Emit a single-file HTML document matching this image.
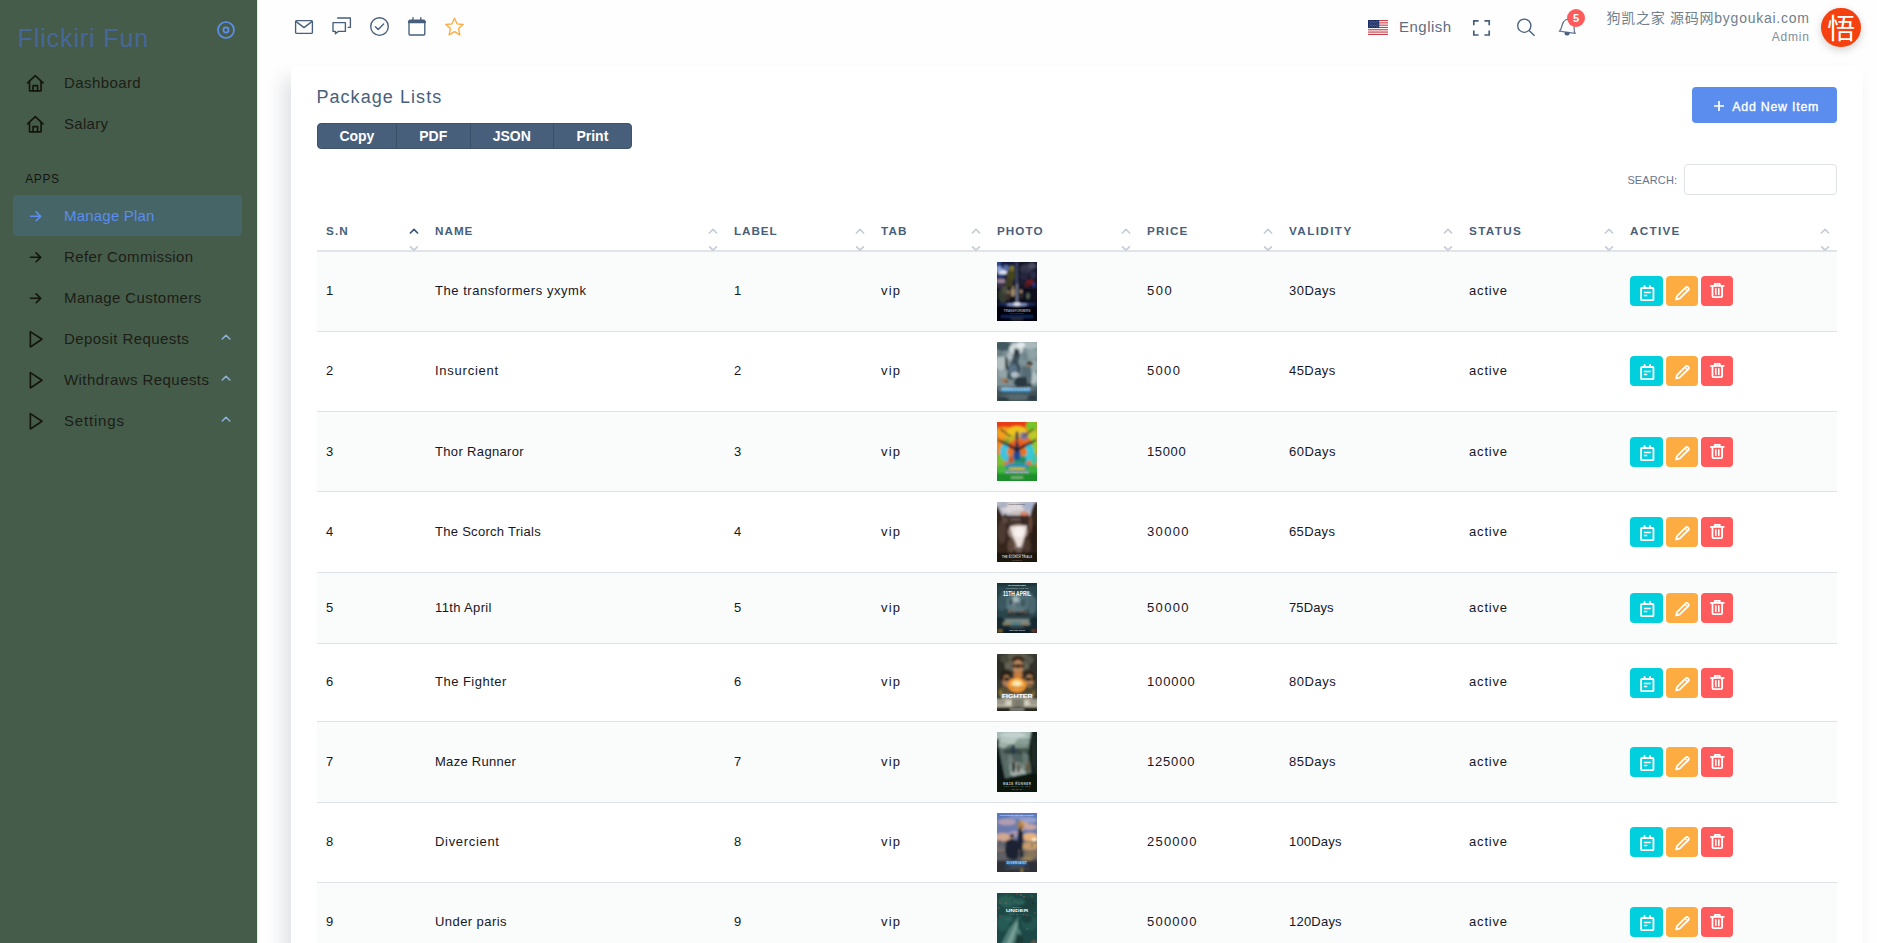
<!DOCTYPE html>
<html lang="en">
<head>
<meta charset="utf-8">
<title>Package Lists</title>
<style>
*{box-sizing:border-box;margin:0;padding:0}
html,body{width:1877px;height:943px;overflow:hidden;background:#fefefe;font-family:"Liberation Sans","Noto Sans CJK SC",sans-serif;color:#727e8c}
#side{position:absolute;left:0;top:0;width:256.6px;height:943px;background:#455c4a;border-right:1px solid #415a44;box-shadow:1px 0 1px rgba(200,200,225,.35)}
#brand{position:absolute;left:17.5px;top:22.5px;font-size:25px;line-height:30px;color:#47679a;white-space:nowrap;letter-spacing:.9px}
#tog{position:absolute;left:215.6px;top:19.8px;width:20px;height:20px;fill:none;stroke:#5e8ff0;stroke-width:1.7}
.mi{position:absolute;left:13px;width:228px;height:41px;border-radius:4px;color:#1c1d16;font-size:15px;line-height:41px;white-space:nowrap}
.mi span{position:absolute;left:51px;top:0}
.mi svg.ic{position:absolute;left:12.2px;top:11px;width:20.6px;height:20.6px;fill:none;stroke:#14150d;stroke-width:1.6;stroke-linecap:round;stroke-linejoin:round}
.mi svg.ch{position:absolute;left:207.8px;top:14.8px;width:10px;height:8px;fill:none;stroke:#8fb2dc;stroke-width:1.5;stroke-linecap:round;stroke-linejoin:round}
.mi.act{background:#466567;color:#5a8dee;width:229px}
.mi.act svg.ic{stroke:#5a8dee}
#apps{position:absolute;left:25.2px;top:172px;font-size:12px;line-height:14px;letter-spacing:.62px;color:#14150f}
#top{position:absolute;left:0;top:0;width:1877px;height:56px}
.ti{position:absolute;fill:none;stroke:#475f7b;stroke-width:1.35;stroke-linecap:round;stroke-linejoin:round;overflow:visible}
#lang{position:absolute;left:1399px;top:17px;font-size:15px;line-height:20px;color:#5f6d7e;white-space:nowrap;letter-spacing:.5px}
#badge{position:absolute;left:1567px;top:9px;width:18px;height:18px;border-radius:9px;background:#ff5b5c;color:#fff;font-size:11px;font-weight:bold;line-height:18px;text-align:center}
#uname{position:absolute;right:67.3px;top:8px;font-size:14px;line-height:20px;color:#727e8c;white-space:nowrap;letter-spacing:.75px}
#urole{position:absolute;right:67.2px;top:29px;font-size:12px;line-height:16px;color:#828d99;white-space:nowrap;letter-spacing:.8px}
#ava{position:absolute;left:1821.4px;top:8.3px;width:39.6px;height:39.2px;border-radius:20px;background:#f4410f;color:#fff;font-size:28px;line-height:38.4px;text-align:center;box-shadow:0 3px 8px rgba(0,0,0,.18);font-family:"Noto Sans CJK SC",sans-serif}
#card{position:absolute;left:291px;top:66px;width:1572px;height:900px;background:#fff;border-radius:4px;box-shadow:-8px 12px 18px 0 rgba(25,42,70,.13)}
#title{position:absolute;left:316.4px;top:85px;font-size:18px;line-height:24px;color:#475f7b;letter-spacing:.6px;white-space:nowrap}
#btns{position:absolute;left:317px;top:123px;width:315px;height:26px;background:#475f7b;border-radius:4px;border:1px solid #3d526b;display:flex;font-weight:bold;font-size:14px;color:#fff;line-height:24px}
#btns div{text-align:center;border-right:1px solid #3a4e66}
#btns div:last-child{border-right:0}
#add{position:absolute;left:1692px;top:87px;width:145px;height:36px;background:#5a8dee;border-radius:4px;color:#fff;font-size:12.4px;line-height:36px;white-space:nowrap}
#add svg{position:absolute;left:21.2px;top:13.2px;width:12px;height:12px;fill:none;stroke:#fff;stroke-width:1.7}
#add span{position:absolute;left:40.2px;top:2px;-webkit-text-stroke:.35px #fff}
#srl{position:absolute;left:1627.4px;top:174px;font-size:11px;line-height:13px;color:#66748a;letter-spacing:.12px}
#sri{position:absolute;left:1684px;top:164px;width:153px;height:31px;border:1px solid #dfe3e7;border-radius:4px;background:#fff}
#tb{position:absolute;left:317px;top:212px;width:1520px;border-collapse:collapse;table-layout:fixed}
#tb th{height:39px;text-align:left;padding:0 0 1px 9px;font-size:11.7px;color:#475f7b;font-weight:bold;border-bottom:2px solid #e1e5ea;position:relative;white-space:nowrap}
#tb td{padding:0 0 0 9px;font-size:13px;color:#17171f;border-bottom:1px solid #dfe3e7;vertical-align:middle;white-space:nowrap;position:relative}
#tb tr.o td{background:#fafbfb}
.so{position:absolute;right:6.9px;top:12px;width:10px;height:28px;overflow:visible;z-index:2;fill:none;stroke:#c5cdd8;stroke-width:1.7;stroke-linecap:round;stroke-linejoin:round}
.ab{position:absolute;top:50%;margin-top:-15px;height:30px;border-radius:4px}
.ab svg{position:absolute;left:50%;top:50%;width:20.6px;height:20.6px;margin:-8.6px 0 0 -10.3px;fill:none;stroke:#fff;stroke-width:1.6;stroke-linecap:round;stroke-linejoin:round}
.b1{left:9px;width:33px;background:#00cfdd}
.b2{left:45px;width:32px;background:#fdac41}
.b3{left:80px;width:32px;background:#ff5b5c}
.ph{display:block;width:40px;overflow:hidden;position:relative}
#tb td span{position:relative;top:-1px}
.b3 svg{margin-top:-10.9px}
.b1 svg{margin-left:-9.7px}
#tb tr.dn td span{top:0}
#tb tbody tr:nth-child(3) .ab,#tb tbody tr:nth-child(6) .ab{margin-top:-14px}
</style>
</head>
<body>
<div id="side">
<div id="brand">Flickiri Fun</div>
<svg id="tog" viewBox="0 0 20 20"><circle cx="10" cy="10" r="8"/><circle cx="10" cy="10" r="2.6"/></svg>
<div class="mi" style="top:62px"><svg class="ic" viewBox="0 0 20 20"><path d="M2.5 9.6 L10 2.6 L17.5 9.6"/><path d="M4.4 8.4 V17.3 H15.6 V8.4"/><path d="M7.8 17.2 V12.2 H12.2 V17.2"/></svg><span style="letter-spacing:0.407px">Dashboard</span></div>
<div class="mi" style="top:103px"><svg class="ic" viewBox="0 0 20 20"><path d="M2.5 9.6 L10 2.6 L17.5 9.6"/><path d="M4.4 8.4 V17.3 H15.6 V8.4"/><path d="M7.8 17.2 V12.2 H12.2 V17.2"/></svg><span style="letter-spacing:0.304px">Salary</span></div>
<div class="mi act" style="top:195px"><svg class="ic" viewBox="0 0 20 20"><path d="M5.4 10 H15 M10.8 5.7 L15.2 10 L10.8 14.3"/></svg><span style="letter-spacing:0.204px">Manage Plan</span></div>
<div class="mi" style="top:236px"><svg class="ic" viewBox="0 0 20 20"><path d="M5.4 10 H15 M10.8 5.7 L15.2 10 L10.8 14.3"/></svg><span style="letter-spacing:0.378px">Refer Commission</span></div>
<div class="mi" style="top:277px"><svg class="ic" viewBox="0 0 20 20"><path d="M5.4 10 H15 M10.8 5.7 L15.2 10 L10.8 14.3"/></svg><span style="letter-spacing:0.423px">Manage Customers</span></div>
<div class="mi" style="top:318px"><svg class="ic" viewBox="0 0 20 20"><path d="M5.2 2.5 V17.5 L16.5 10 Z"/></svg><span style="letter-spacing:0.43px">Deposit Requests</span><svg class="ch" viewBox="0 0 10 8"><path d="M1.2 6 L5 2.2 L8.8 6"/></svg></div>
<div class="mi" style="top:359px"><svg class="ic" viewBox="0 0 20 20"><path d="M5.2 2.5 V17.5 L16.5 10 Z"/></svg><span style="letter-spacing:0.435px">Withdraws Requests</span><svg class="ch" viewBox="0 0 10 8"><path d="M1.2 6 L5 2.2 L8.8 6"/></svg></div>
<div class="mi" style="top:400px"><svg class="ic" viewBox="0 0 20 20"><path d="M5.2 2.5 V17.5 L16.5 10 Z"/></svg><span style="letter-spacing:0.821px">Settings</span><svg class="ch" viewBox="0 0 10 8"><path d="M1.2 6 L5 2.2 L8.8 6"/></svg></div>
<div id="apps">APPS</div>
</div>
<div id="top">
<svg class="ti" style="left:294px;top:19px;width:20px;height:16px" viewBox="0 0 20 16"><rect x="1.6" y="1.6" width="16.8" height="12.8" rx="1"/><path d="M2.2 2.6 L10 8.6 L17.8 2.6"/></svg>
<svg class="ti" style="left:331px;top:16px;width:22px;height:20px" viewBox="0 0 22 20"><path d="M2 6.6 H14.4 V15.4 H7.4 L4.4 17.8 V15.4 H2 Z"/><path d="M6.6 2 H19.4 V11.4 H17.2"/></svg>
<svg class="ti" style="left:369px;top:16px;width:21px;height:21px" viewBox="0 0 21 21"><circle cx="10.5" cy="10.5" r="8.8"/><path d="M6.4 10.8 L9.2 13.4 L14.6 8"/></svg>
<svg class="ti" style="left:407px;top:16px;width:20px;height:21px" viewBox="0 0 20 21"><rect x="2" y="4.2" width="15.8" height="14.8" rx="1"/><path d="M2 6 H17.8" style="stroke-width:2.4"/><path d="M6 1.6 V4 M13.8 1.6 V4"/></svg>
<svg class="ti" style="left:444px;top:16px;width:21px;height:21px;stroke:#fdac41" viewBox="0 0 21 21"><path d="M10.5 2.2 L13 7.8 L19.2 8.5 L14.6 12.6 L15.9 18.8 L10.5 15.7 L5.1 18.8 L6.4 12.6 L1.8 8.5 L8 7.8 Z"/></svg>
<svg style="position:absolute;left:1368px;top:20px;width:20px;height:15px" viewBox="0 0 20 15"><rect width="20" height="15" fill="#fff"/><g fill="#c8414b"><rect y="0" width="20" height="1.15"/><rect y="2.3" width="20" height="1.15"/><rect y="4.6" width="20" height="1.15"/><rect y="6.9" width="20" height="1.15"/><rect y="9.2" width="20" height="1.15"/><rect y="11.5" width="20" height="1.15"/><rect y="13.85" width="20" height="1.15"/></g><rect width="11.2" height="8.05" fill="#13265e"/><g stroke="#fff" stroke-width=".8" stroke-dasharray=".8 1" opacity=".55"><path d="M.8 1.3 H10.6"/><path d="M1.7 2.7 H10.6"/><path d="M.8 4.1 H10.6"/><path d="M1.7 5.5 H10.6"/><path d="M.8 6.9 H10.6"/></g></svg>
<div id="lang">English</div>
<svg class="ti" style="left:1472px;top:19px;width:19px;height:18px;stroke-linecap:butt;stroke-linejoin:miter;stroke-width:1.7" viewBox="0 0 19 18"><path d="M1.8 6.2 V1.8 H6.6 M12.4 1.8 H17.2 V6.2 M17.2 11.6 V16 H12.4 M6.6 16 H1.8 V11.6"/></svg>
<svg class="ti" style="left:1515.4px;top:16px;width:22px;height:22px" viewBox="0 0 22 22"><circle cx="9.3" cy="9.7" r="6.6"/><path d="M14.4 14.8 L19.2 19.4"/></svg>
<svg class="ti" style="left:1557px;top:16px;width:22px;height:22px;stroke:#647993;stroke-width:1.25" viewBox="0 0 22 22"><g transform="rotate(8 11 11)"><path d="M3 16.4 C5.4 14 4.2 9.4 6 6.4 C7.2 4.2 9.2 3.2 11 3.2 C12.8 3.2 14.8 4.2 16 6.4 C17.8 9.4 16.6 14 19 16.4 Z"/><path d="M9 17 a2 2 0 0 0 4 0 Z" fill="#475f7b" stroke="#475f7b"/></g></svg>
<div id="badge">5</div>
<div id="uname">狗凯之家 源码网bygoukai.com</div>
<div id="urole">Admin</div>
<div id="ava">悟</div>
</div>
<div id="card"></div>
<div id="title" style="letter-spacing:1.066px">Package Lists</div>
<div id="btns"><div style="width:78.8px">Copy</div><div style="width:73.8px">PDF</div><div style="width:83.2px">JSON</div><div style="width:77.2px">Print</div></div>
<div id="add"><svg viewBox="0 0 12 12"><path d="M6 1 V11 M1 6 H11"/></svg><span style="letter-spacing:0.767px">Add New Item</span></div>
<div id="srl">SEARCH:</div>
<div id="sri"></div>
<table id="tb">
<colgroup><col style="width:109px"><col style="width:299px"><col style="width:147px"><col style="width:116px"><col style="width:150px"><col style="width:142px"><col style="width:180px"><col style="width:161px"><col style="width:216px"></colgroup>
<thead><tr><th><span style="letter-spacing:1.117px">S.N</span><svg class="so" viewBox="0 0 10 28"><path d="M1.4 9 L5 5.3 L8.6 9" style="stroke:#3f5672;stroke-width:1.7"/><path d="M1.6 22.8 L5 26.2 L8.4 22.8"/></svg></th><th><span style="letter-spacing:0.999px">NAME</span><svg class="so" viewBox="0 0 10 28"><path d="M1.4 9 L5 5.3 L8.6 9" /><path d="M1.6 22.8 L5 26.2 L8.4 22.8"/></svg></th><th><span style="letter-spacing:0.913px">LABEL</span><svg class="so" viewBox="0 0 10 28"><path d="M1.4 9 L5 5.3 L8.6 9" /><path d="M1.6 22.8 L5 26.2 L8.4 22.8"/></svg></th><th><span style="letter-spacing:1.131px">TAB</span><svg class="so" viewBox="0 0 10 28"><path d="M1.4 9 L5 5.3 L8.6 9" /><path d="M1.6 22.8 L5 26.2 L8.4 22.8"/></svg></th><th><span style="letter-spacing:1.04px">PHOTO</span><svg class="so" viewBox="0 0 10 28"><path d="M1.4 9 L5 5.3 L8.6 9" /><path d="M1.6 22.8 L5 26.2 L8.4 22.8"/></svg></th><th><span style="letter-spacing:1.171px">PRICE</span><svg class="so" viewBox="0 0 10 28"><path d="M1.4 9 L5 5.3 L8.6 9" /><path d="M1.6 22.8 L5 26.2 L8.4 22.8"/></svg></th><th><span style="letter-spacing:1.404px">VALIDITY</span><svg class="so" viewBox="0 0 10 28"><path d="M1.4 9 L5 5.3 L8.6 9" /><path d="M1.6 22.8 L5 26.2 L8.4 22.8"/></svg></th><th><span style="letter-spacing:1.361px">STATUS</span><svg class="so" viewBox="0 0 10 28"><path d="M1.4 9 L5 5.3 L8.6 9" /><path d="M1.6 22.8 L5 26.2 L8.4 22.8"/></svg></th><th><span style="letter-spacing:1.312px">ACTIVE</span><svg class="so" viewBox="0 0 10 28"><path d="M1.4 9 L5 5.3 L8.6 9" /><path d="M1.6 22.8 L5 26.2 L8.4 22.8"/></svg></th></tr></thead>
<tbody>
<tr class="o" style="height:80px"><td><span>1</span></td><td><span style="letter-spacing:0.547px">The transformers yxymk</span></td><td><span>1</span></td><td><span style="letter-spacing:1.143px">vip</span></td><td><svg class="ph" width="40" height="59" viewBox="0 0 40 59"><defs><filter id="bl1" x="-20%" y="-20%" width="140%" height="140%"><feGaussianBlur stdDeviation="0.8"/></filter><clipPath id="cp1"><rect width="40" height="59"/></clipPath></defs><g clip-path="url(#cp1)"><g filter="url(#bl1)"><rect x="-3" y="-3" width="46" height="65" fill="#090d1c"/><rect x="-3" y="-3" width="23" height="25" fill="#131d3e"/><rect x="-3" y="-3" width="7" height="7" fill="#2c4690"/><ellipse cx="5.5" cy="10" rx="4.5" ry="2.6" fill="#dfe6f6"/><ellipse cx="2" cy="7" rx="3" ry="3" fill="#8ea4d8"/><ellipse cx="9" cy="6" rx="3" ry="3" fill="#5a6ea8"/><ellipse cx="4" cy="19" rx="4.5" ry="2.2" fill="#9a8296"/><ellipse cx="3" cy="14" rx="4" ry="2" fill="#2a3a78"/><ellipse cx="4" cy="24" rx="5" ry="2.5" fill="#3a3048"/><ellipse cx="14.5" cy="8" rx="3" ry="4" fill="#6c6628"/><ellipse cx="14" cy="14" rx="4.5" ry="5" fill="#46441e"/><ellipse cx="15.5" cy="5.5" rx="1.4" ry="1.4" fill="#8c8638"/><ellipse cx="12" cy="21" rx="4" ry="4" fill="#3c3e24"/><ellipse cx="6" cy="33" rx="4.5" ry="8" fill="#363e30"/><ellipse cx="8" cy="28" rx="3" ry="4" fill="#4a5040"/><rect x="21" y="-3" width="22" height="30" fill="#141628"/><ellipse cx="29" cy="7" rx="6" ry="5" fill="#34364c"/><ellipse cx="35" cy="4" rx="4" ry="3" fill="#4a4c62"/><ellipse cx="27" cy="14" rx="4" ry="5" fill="#262840"/><ellipse cx="36" cy="13" rx="3" ry="4" fill="#2c2e48"/><ellipse cx="33" cy="20" rx="4" ry="2.6" fill="#6c1c24"/><ellipse cx="37" cy="23" rx="2" ry="2.3" fill="#283678"/><ellipse cx="30" cy="23" rx="2.5" ry="2" fill="#5a1820"/><ellipse cx="26" cy="20" rx="3" ry="3" fill="#1c1e34"/><rect x="19.5" y="0" width="1" height="41" fill="#aebce6" opacity="0.6"/><rect x="19.65" y="22" width="0.7" height="19" fill="#e6ecff" opacity="0.9"/><ellipse cx="16" cy="30.4" rx="2.3" ry="4.2" fill="#9c8868"/><ellipse cx="16" cy="25.6" rx="1.6" ry="1.8" fill="#8a6a50"/><ellipse cx="11" cy="34" rx="2" ry="4.4" fill="#3e302c"/><ellipse cx="11.4" cy="30" rx="1.3" ry="1.5" fill="#a08468"/><ellipse cx="24" cy="33" rx="2.8" ry="4" fill="#25252c"/><ellipse cx="24" cy="29.4" rx="1.4" ry="1.6" fill="#b09078"/><ellipse cx="31" cy="34" rx="1.6" ry="3" fill="#586858"/><ellipse cx="20" cy="42.2" rx="19" ry="1.8" fill="#1c2c5c"/><ellipse cx="20" cy="42.6" rx="11" ry="0.9" fill="#b4c4f4"/><ellipse cx="20" cy="42" rx="3.4" ry="1.6" fill="#f4f7ff"/><rect x="-3" y="44.6" width="46" height="18" fill="#04060c"/><rect x="4" y="53.4" width="32" height="2.2" fill="#122c5e"/><rect x="14" y="56.6" width="12" height="0.7" fill="#70788a"/></g><text x="20" y="50.2" font-size="3.4" fill="#8c909c" text-anchor="middle" font-family="Liberation Sans,sans-serif" font-weight="bold" textLength="27">TRANSFORMERS</text><text x="20" y="52.3" font-size="1.2" fill="#6a7080" text-anchor="middle" font-family="Liberation Sans,sans-serif" font-weight="bold" textLength="14">THE LAST KNIGHT</text></g></svg></td><td><span style="letter-spacing:1.503px">500</span></td><td><span style="letter-spacing:0.486px">30Days</span></td><td><span style="letter-spacing:0.828px">active</span></td><td><div class="ab b1"><svg viewBox="0 0 18 18"><rect x="3.6" y="4.4" width="10.8" height="10.6" rx=".6"/><path d="M6.6 2.6 V4.4 M11.4 2.6 V4.4"/><path d="M6 8.2 H12 M6 11 H9" style="stroke-width:1.3;stroke-linecap:butt"/></svg></div><div class="ab b2"><svg viewBox="0 0 18 18"><path d="M3.6 14.4 L4.4 11.4 L12 3.8 a1.3 1.3 0 0 1 1.9 0 l.4 .4 a1.3 1.3 0 0 1 0 1.9 L6.6 13.6 Z"/><path d="M11.4 4.6 L13.4 6.6" style="stroke-width:1"/></svg></div><div class="ab b3"><svg viewBox="0 0 18 18"><path d="M3.4 5.2 H14.6"/><path d="M6.8 5 V3.4 H11.2 V5"/><path d="M4.8 5.4 V14 a.9 .9 0 0 0 .9 .9 H12.3 a.9 .9 0 0 0 .9 -.9 V5.4"/><path d="M7.7 7.6 V12.6 M10.3 7.6 V12.6" style="stroke-width:1.4"/></svg></div></td></tr>
<tr class="e" style="height:80px"><td><span>2</span></td><td><span style="letter-spacing:0.759px">Insurcient</span></td><td><span>2</span></td><td><span style="letter-spacing:1.143px">vip</span></td><td><svg class="ph" width="40" height="59" viewBox="0 0 40 59"><defs><filter id="bl2" x="-20%" y="-20%" width="140%" height="140%"><feGaussianBlur stdDeviation="0.8"/></filter><clipPath id="cp2"><rect width="40" height="59"/></clipPath></defs><g clip-path="url(#cp2)"><g filter="url(#bl2)"><rect x="-3" y="-3" width="46" height="65" fill="#7d9297"/><ellipse cx="6" cy="4" rx="9" ry="5" fill="#41585f"/><ellipse cx="33" cy="3" rx="9" ry="4" fill="#a9b9bc"/><ellipse cx="35" cy="12" rx="6" ry="5" fill="#8fa2a6"/><ellipse cx="19" cy="7" rx="7" ry="6" fill="#cfd9db"/><ellipse cx="24" cy="3" rx="4" ry="3" fill="#e4eaeb"/><ellipse cx="4" cy="21" rx="5" ry="8" fill="#b2bfc0"/><ellipse cx="3" cy="12" rx="4" ry="3" fill="#6a8086"/><ellipse cx="36" cy="24" rx="5" ry="6" fill="#9aabae"/><ellipse cx="36" cy="36" rx="5" ry="6" fill="#b4c1c3"/><ellipse cx="6" cy="32" rx="5" ry="4" fill="#93a5a8"/><ellipse cx="13" cy="14" rx="3" ry="4" fill="#aebcc0"/><ellipse cx="28" cy="14" rx="3" ry="4" fill="#6e858b"/><path d="M17.5 7 L22 8 L23 14 L21 20 L24 26 L22 36 L14 38 L10 36 L11 26 L15 19 Z" fill="#3b4d59"/><path d="M8 15 L10 15 L10.5 24 L12 27 L10 28 L8 24 Z" fill="#1f2a30"/><rect x="18.5" y="6" width="1.3" height="8" fill="#1f2a30"/><rect x="21" y="7" width="1.2" height="7" fill="#232e34"/><ellipse cx="16" cy="28" rx="4.5" ry="6" fill="#5a7284"/><ellipse cx="18" cy="33" rx="4" ry="3" fill="#c9d6dc" opacity="0.8"/><ellipse cx="7.5" cy="38.5" rx="3.2" ry="2.2" fill="#a57c5c"/><ellipse cx="9.6" cy="39.6" rx="2" ry="1.6" fill="#7a5a40"/><ellipse cx="32.6" cy="21.6" rx="3" ry="2.2" fill="#2a2420"/><ellipse cx="31.4" cy="23.8" rx="2" ry="1.8" fill="#9a7a62"/><path d="M25 24 L34 25 L35 33 L34 42 L31 42 L31 35 L27 37 L24 34 Z" fill="#566c76"/><ellipse cx="33" cy="43" rx="2" ry="1.5" fill="#1f262a"/><path d="M20 35 L30 35 L31 45 L27 47 L20 45 L16 41 Z" fill="#2a3942"/><rect x="-3" y="44.5" width="46" height="18" fill="#3f5258"/><ellipse cx="8" cy="47" rx="8" ry="2" fill="#6d8288"/><ellipse cx="33" cy="47" rx="7" ry="2" fill="#5b7076"/><ellipse cx="20" cy="55" rx="17" ry="3" fill="#56696f"/><ellipse cx="6" cy="57" rx="6" ry="2" fill="#2c3a40"/><ellipse cx="35" cy="56" rx="5" ry="3" fill="#2f3e44"/><rect x="4.8" y="46.2" width="28.5" height="1.5" fill="#d6ecf8" opacity="0.9"/><rect x="4.8" y="47.8" width="28.5" height="1.8" fill="#3c9ad4"/></g><text x="19" y="49.4" font-size="3.6" fill="#5fb4e8" text-anchor="middle" font-family="Liberation Sans,sans-serif" font-weight="bold" textLength="28">INSURGENT</text></g></svg></td><td><span style="letter-spacing:1.329px">5000</span></td><td><span style="letter-spacing:0.446px">45Days</span></td><td><span style="letter-spacing:0.828px">active</span></td><td><div class="ab b1"><svg viewBox="0 0 18 18"><rect x="3.6" y="4.4" width="10.8" height="10.6" rx=".6"/><path d="M6.6 2.6 V4.4 M11.4 2.6 V4.4"/><path d="M6 8.2 H12 M6 11 H9" style="stroke-width:1.3;stroke-linecap:butt"/></svg></div><div class="ab b2"><svg viewBox="0 0 18 18"><path d="M3.6 14.4 L4.4 11.4 L12 3.8 a1.3 1.3 0 0 1 1.9 0 l.4 .4 a1.3 1.3 0 0 1 0 1.9 L6.6 13.6 Z"/><path d="M11.4 4.6 L13.4 6.6" style="stroke-width:1"/></svg></div><div class="ab b3"><svg viewBox="0 0 18 18"><path d="M3.4 5.2 H14.6"/><path d="M6.8 5 V3.4 H11.2 V5"/><path d="M4.8 5.4 V14 a.9 .9 0 0 0 .9 .9 H12.3 a.9 .9 0 0 0 .9 -.9 V5.4"/><path d="M7.7 7.6 V12.6 M10.3 7.6 V12.6" style="stroke-width:1.4"/></svg></div></td></tr>
<tr class="o dn" style="height:80px"><td><span>3</span></td><td><span style="letter-spacing:0.347px">Thor Ragnaror</span></td><td><span>3</span></td><td><span style="letter-spacing:1.143px">vip</span></td><td><svg class="ph" width="40" height="59" viewBox="0 0 40 59"><defs><filter id="bl3" x="-20%" y="-20%" width="140%" height="140%"><feGaussianBlur stdDeviation="0.8"/></filter><clipPath id="cp3"><rect width="40" height="59"/></clipPath></defs><g clip-path="url(#cp3)"><g filter="url(#bl3)"><rect x="-3" y="-3" width="46" height="65" fill="#ee6a1c"/><rect x="-3" y="-3" width="46" height="8" fill="#e63c17"/><ellipse cx="7" cy="11" rx="8" ry="6" fill="#f3a01d"/><ellipse cx="3" cy="24" rx="5" ry="9" fill="#f08a1c"/><ellipse cx="3" cy="38" rx="5" ry="6" fill="#7cc030"/><ellipse cx="35" cy="4" rx="6" ry="6" fill="#74c62a"/><ellipse cx="36" cy="13" rx="5" ry="5" fill="#b9cc2a"/><ellipse cx="37" cy="24" rx="4" ry="8" fill="#8ccc34"/><ellipse cx="37" cy="37" rx="4" ry="6" fill="#44c4a0"/><ellipse cx="20" cy="10" rx="10" ry="6" fill="#eec41f"/><ellipse cx="13" cy="16" rx="5" ry="4" fill="#c8b428"/><ellipse cx="27" cy="14" rx="4" ry="4" fill="#7a7a9a"/><ellipse cx="9" cy="21" rx="4" ry="4" fill="#8a9a30"/><ellipse cx="33" cy="22" rx="3" ry="3" fill="#b07a38"/><ellipse cx="20" cy="32" rx="15" ry="11" fill="#2cb9dc"/><ellipse cx="8" cy="30" rx="5" ry="8" fill="#3cc4e0"/><ellipse cx="32" cy="30" rx="5" ry="8" fill="#34c8d8"/><ellipse cx="20" cy="24" rx="9" ry="5" fill="#ea5c1c"/><ellipse cx="14" cy="30" rx="4" ry="4" fill="#e8741e"/><ellipse cx="26" cy="30" rx="4" ry="4" fill="#e8741e"/><ellipse cx="20" cy="33" rx="3.6" ry="8" fill="#1f4c96"/><ellipse cx="20" cy="25" rx="2" ry="6" fill="#34344a"/><ellipse cx="20" cy="14" rx="1.6" ry="5" fill="#3a3a50"/><path d="M1 17 L12 22 L20 26 L28 22 L39 17 L39 19 L28 25 L20 30 L12 25 L1 19 Z" fill="#23202c" opacity="0.85"/><path d="M4 6 L14 14 L13 15 L3 8 Z" fill="#4a3a20" opacity="0.7"/><path d="M36 6 L26 14 L27 15 L37 8 Z" fill="#4a3a20" opacity="0.7"/><ellipse cx="14" cy="38" rx="3" ry="4" fill="#c05a2a"/><ellipse cx="26" cy="38" rx="3" ry="4" fill="#2a8a5a"/><ellipse cx="20" cy="41" rx="3" ry="3" fill="#2a9a3a"/><rect x="-3" y="44" width="46" height="20" fill="#2aa634"/><ellipse cx="20" cy="44" rx="13" ry="3" fill="#2494b4"/><rect x="-3" y="52" width="46" height="10" fill="#1a8e2a"/><ellipse cx="4" cy="47" rx="5" ry="4" fill="#4ab83a"/><ellipse cx="36" cy="47" rx="5" ry="4" fill="#3ab03a"/><rect x="12" y="45.6" width="16" height="2" fill="#e4b62a"/><rect x="8" y="48.4" width="24" height="2.6" fill="#8c98ae"/><rect x="14" y="55" width="12" height="1.2" fill="#c8e0c0" opacity="0.8"/></g><text x="20" y="47.4" font-size="2.4" fill="#f2d048" text-anchor="middle" font-family="Liberation Sans,sans-serif" font-weight="bold" textLength="9">THOR</text><text x="20" y="50.6" font-size="2.3" fill="#c9cfdc" text-anchor="middle" font-family="Liberation Sans,sans-serif" font-weight="bold" textLength="22">RAGNAROK</text></g></svg></td><td><span style="letter-spacing:0.638px">15000</span></td><td><span style="letter-spacing:0.486px">60Days</span></td><td><span style="letter-spacing:0.828px">active</span></td><td><div class="ab b1"><svg viewBox="0 0 18 18"><rect x="3.6" y="4.4" width="10.8" height="10.6" rx=".6"/><path d="M6.6 2.6 V4.4 M11.4 2.6 V4.4"/><path d="M6 8.2 H12 M6 11 H9" style="stroke-width:1.3;stroke-linecap:butt"/></svg></div><div class="ab b2"><svg viewBox="0 0 18 18"><path d="M3.6 14.4 L4.4 11.4 L12 3.8 a1.3 1.3 0 0 1 1.9 0 l.4 .4 a1.3 1.3 0 0 1 0 1.9 L6.6 13.6 Z"/><path d="M11.4 4.6 L13.4 6.6" style="stroke-width:1"/></svg></div><div class="ab b3"><svg viewBox="0 0 18 18"><path d="M3.4 5.2 H14.6"/><path d="M6.8 5 V3.4 H11.2 V5"/><path d="M4.8 5.4 V14 a.9 .9 0 0 0 .9 .9 H12.3 a.9 .9 0 0 0 .9 -.9 V5.4"/><path d="M7.7 7.6 V12.6 M10.3 7.6 V12.6" style="stroke-width:1.4"/></svg></div></td></tr>
<tr class="e dn" style="height:81px"><td><span>4</span></td><td><span style="letter-spacing:0.285px">The Scorch Trials</span></td><td><span>4</span></td><td><span style="letter-spacing:1.143px">vip</span></td><td><svg class="ph" width="40" height="60" viewBox="0 0 40 60"><defs><filter id="bl4" x="-20%" y="-20%" width="140%" height="140%"><feGaussianBlur stdDeviation="0.8"/></filter><clipPath id="cp4"><rect width="40" height="60"/></clipPath></defs><g clip-path="url(#cp4)"><g filter="url(#bl4)"><rect x="-3" y="-3" width="46" height="66" fill="#3c2c25"/><rect x="-3" y="-3" width="46" height="17" fill="#bdbcc8"/><ellipse cx="16" cy="6" rx="11" ry="5" fill="#dcd7d8"/><ellipse cx="32" cy="4" rx="7" ry="4" fill="#a8b3cb"/><ellipse cx="6" cy="3" rx="5" ry="3" fill="#aab0c4"/><ellipse cx="22" cy="11" rx="9" ry="2.5" fill="#cbbfbe"/><path d="M-3 3 L1 5 L5 13 L8 24 L11 40 L12 62 L-3 62 Z" fill="#35261f"/><path d="M43 -3 L37 2 L34 10 L32 22 L32 40 L31 62 L43 62 Z" fill="#33251f"/><ellipse cx="5" cy="30" rx="4" ry="12" fill="#4d3a30"/><ellipse cx="33.5" cy="22" rx="1.6" ry="9" fill="#6b4a3a"/><ellipse cx="37" cy="36" rx="3" ry="14" fill="#2a1e19"/><ellipse cx="8" cy="17" rx="3" ry="5" fill="#5a463c"/><ellipse cx="27.4" cy="12.6" rx="4.2" ry="3" fill="#c8785a" opacity="0.8"/><ellipse cx="27.4" cy="12.6" rx="2.2" ry="1.9" fill="#e4522a"/><ellipse cx="27.4" cy="12.3" rx="1" ry="0.9" fill="#ffe0b8"/><rect x="7" y="13.6" width="25" height="1.6" fill="#231a18"/><rect x="12" y="15" width="13" height="8" fill="#46362f" opacity="0.85"/><rect x="25" y="15" width="1.2" height="10" fill="#2a1f1b"/><rect x="14" y="17" width="9" height="1" fill="#8a7a74" opacity="0.8"/><ellipse cx="21" cy="30" rx="10" ry="8" fill="#9c877c"/><ellipse cx="21" cy="40" rx="7" ry="8" fill="#86726a"/><path d="M13 24.5 L30 23.5 L28 33 L25 42 L22 49 L19 41 L15 32 Z" fill="#e9dfdb"/><ellipse cx="22" cy="30" rx="5" ry="5.5" fill="#f6f0ee"/><ellipse cx="14" cy="44" rx="3.5" ry="7" fill="#5c473b"/><ellipse cx="30" cy="44" rx="3.5" ry="7" fill="#4c392f"/><ellipse cx="22" cy="48" rx="3" ry="3" fill="#6e5a50"/><rect x="-3" y="50.5" width="46" height="12" fill="#1a1310"/></g><text x="20" y="53.2" font-size="1.9" fill="#a59b95" text-anchor="middle" font-family="Liberation Sans,sans-serif" font-weight="bold" textLength="16">MAZE RUNNER</text><text x="20" y="56.4" font-size="2.7" fill="#ddd6d1" text-anchor="middle" font-family="Liberation Sans,sans-serif" font-weight="bold" textLength="30">THE SCORCH TRIALS</text><text x="20" y="58.6" font-size="1.2" fill="#7a706a" text-anchor="middle" font-family="Liberation Sans,sans-serif" font-weight="bold" textLength="10">SEPTEMBER 18</text><text x="20" y="3" font-size="1.3" fill="#6a6470" text-anchor="middle" font-family="Liberation Sans,sans-serif" font-weight="bold" textLength="17">THE MAZE WAS JUST THE BEGINNING</text></g></svg></td><td><span style="letter-spacing:1.363px">30000</span></td><td><span style="letter-spacing:0.366px">65Days</span></td><td><span style="letter-spacing:0.828px">active</span></td><td><div class="ab b1"><svg viewBox="0 0 18 18"><rect x="3.6" y="4.4" width="10.8" height="10.6" rx=".6"/><path d="M6.6 2.6 V4.4 M11.4 2.6 V4.4"/><path d="M6 8.2 H12 M6 11 H9" style="stroke-width:1.3;stroke-linecap:butt"/></svg></div><div class="ab b2"><svg viewBox="0 0 18 18"><path d="M3.6 14.4 L4.4 11.4 L12 3.8 a1.3 1.3 0 0 1 1.9 0 l.4 .4 a1.3 1.3 0 0 1 0 1.9 L6.6 13.6 Z"/><path d="M11.4 4.6 L13.4 6.6" style="stroke-width:1"/></svg></div><div class="ab b3"><svg viewBox="0 0 18 18"><path d="M3.4 5.2 H14.6"/><path d="M6.8 5 V3.4 H11.2 V5"/><path d="M4.8 5.4 V14 a.9 .9 0 0 0 .9 .9 H12.3 a.9 .9 0 0 0 .9 -.9 V5.4"/><path d="M7.7 7.6 V12.6 M10.3 7.6 V12.6" style="stroke-width:1.4"/></svg></div></td></tr>
<tr class="o dn" style="height:71px"><td><span>5</span></td><td><span style="letter-spacing:0.362px">11th April</span></td><td><span>5</span></td><td><span style="letter-spacing:1.143px">vip</span></td><td><svg class="ph" width="40" height="50" viewBox="0 0 40 50"><defs><filter id="bl5" x="-20%" y="-20%" width="140%" height="140%"><feGaussianBlur stdDeviation="0.8"/></filter><clipPath id="cp5"><rect width="40" height="50"/></clipPath></defs><g clip-path="url(#cp5)"><g filter="url(#bl5)"><rect x="-3" y="-3" width="46" height="56" fill="#2b444c"/><ellipse cx="20" cy="20" rx="13" ry="9" fill="#587780"/><ellipse cx="5" cy="20" rx="5" ry="8" fill="#3b5961"/><ellipse cx="35" cy="22" rx="5" ry="9" fill="#48666e"/><ellipse cx="30" cy="13" rx="6" ry="4" fill="#4d6b73"/><ellipse cx="9" cy="12" rx="5" ry="4" fill="#3f5d65"/><rect x="-3" y="-3" width="46" height="6" fill="#1d3239"/><rect x="-3" y="-3" width="4" height="56" fill="#213840" opacity="0.8"/><rect x="39" y="-3" width="4" height="56" fill="#25404a" opacity="0.7"/><ellipse cx="19" cy="19" rx="4.4" ry="6" fill="#7e969c"/><ellipse cx="18.6" cy="16.4" rx="3" ry="3" fill="#a3b5b8"/><ellipse cx="20" cy="22" rx="3" ry="3" fill="#5a7078"/><ellipse cx="14" cy="19" rx="2" ry="3" fill="#3a5058"/><ellipse cx="26" cy="20" rx="3" ry="4" fill="#405a62"/><ellipse cx="12.6" cy="28.4" rx="1.5" ry="1.7" fill="#8a6e56"/><ellipse cx="17" cy="28" rx="1.5" ry="1.7" fill="#86705c"/><ellipse cx="24.4" cy="28.4" rx="1.5" ry="1.7" fill="#8a6e56"/><ellipse cx="28.6" cy="29" rx="1.5" ry="1.7" fill="#6e5c4c"/><ellipse cx="12.6" cy="32" rx="2.2" ry="2.6" fill="#2a3336"/><ellipse cx="17" cy="32" rx="2.2" ry="3" fill="#30383a"/><ellipse cx="24.4" cy="32" rx="2.4" ry="3" fill="#262e32"/><ellipse cx="28.8" cy="32.4" rx="2.2" ry="2.6" fill="#2c3436"/><ellipse cx="21" cy="32" rx="2" ry="3" fill="#1f282c"/><rect x="-3" y="34" width="46" height="20" fill="#182a30"/><ellipse cx="20" cy="35" rx="15" ry="2.5" fill="#2f464c"/><rect x="8" y="36.4" width="24" height="2.4" fill="#8c9a96"/><rect x="6" y="39.4" width="27" height="2.6" fill="#5c8c92"/><rect x="6" y="39.4" width="8" height="2.6" fill="#8a8468"/><rect x="24" y="39.4" width="8" height="2.6" fill="#908a70"/><rect x="13" y="43.6" width="14" height="1" fill="#5a6e72"/><rect x="-3" y="46.4" width="46" height="6" fill="#101c20"/><rect x="1" y="47.2" width="4.4" height="1.4" fill="#b8942a"/><rect x="34.6" y="47.2" width="2" height="1.4" fill="#8a7a2a"/><rect x="37" y="47.2" width="2.6" height="1.4" fill="#b8382a"/></g><text x="20" y="13" font-size="7" fill="#f6f8f8" text-anchor="middle" font-family="Liberation Sans,sans-serif" font-weight="bold" textLength="28" lengthAdjust="spacingAndGlyphs">11TH APRIL</text><text x="20" y="2.9" font-size="1.5" fill="#dfe6e8" text-anchor="middle" font-family="Liberation Sans,sans-serif" font-weight="bold" textLength="18">RELIANCE ENTERTAINMENT</text><text x="20" y="5.9" font-size="1.9" fill="#aebcc0" text-anchor="middle" font-family="Liberation Sans,sans-serif" font-weight="bold" textLength="22">THUNDERS THIS ON</text><text x="20" y="48.4" font-size="1.5" fill="#dfe6e8" text-anchor="middle" font-family="Liberation Sans,sans-serif" font-weight="bold" textLength="16">HINDI TAMIL TELUGU</text></g></svg></td><td><span style="letter-spacing:1.363px">50000</span></td><td><span style="letter-spacing:0.106px">75Days</span></td><td><span style="letter-spacing:0.828px">active</span></td><td><div class="ab b1"><svg viewBox="0 0 18 18"><rect x="3.6" y="4.4" width="10.8" height="10.6" rx=".6"/><path d="M6.6 2.6 V4.4 M11.4 2.6 V4.4"/><path d="M6 8.2 H12 M6 11 H9" style="stroke-width:1.3;stroke-linecap:butt"/></svg></div><div class="ab b2"><svg viewBox="0 0 18 18"><path d="M3.6 14.4 L4.4 11.4 L12 3.8 a1.3 1.3 0 0 1 1.9 0 l.4 .4 a1.3 1.3 0 0 1 0 1.9 L6.6 13.6 Z"/><path d="M11.4 4.6 L13.4 6.6" style="stroke-width:1"/></svg></div><div class="ab b3"><svg viewBox="0 0 18 18"><path d="M3.4 5.2 H14.6"/><path d="M6.8 5 V3.4 H11.2 V5"/><path d="M4.8 5.4 V14 a.9 .9 0 0 0 .9 .9 H12.3 a.9 .9 0 0 0 .9 -.9 V5.4"/><path d="M7.7 7.6 V12.6 M10.3 7.6 V12.6" style="stroke-width:1.4"/></svg></div></td></tr>
<tr class="e" style="height:78px"><td><span>6</span></td><td><span style="letter-spacing:0.483px">The Fighter</span></td><td><span>6</span></td><td><span style="letter-spacing:1.143px">vip</span></td><td><svg class="ph" width="40" height="57" viewBox="0 0 40 57"><defs><filter id="bl6" x="-20%" y="-20%" width="140%" height="140%"><feGaussianBlur stdDeviation="0.8"/></filter><clipPath id="cp6"><rect width="40" height="57"/></clipPath></defs><g clip-path="url(#cp6)"><g filter="url(#bl6)"><rect x="-3" y="-3" width="46" height="63" fill="#3b3b31"/><ellipse cx="20" cy="8" rx="17" ry="9" fill="#646252"/><ellipse cx="3" cy="14" rx="5" ry="12" fill="#2c2d25"/><ellipse cx="37" cy="14" rx="5" ry="12" fill="#30312a"/><ellipse cx="8" cy="5" rx="5" ry="4" fill="#4a4a3c"/><ellipse cx="32" cy="6" rx="5" ry="4" fill="#55544a"/><ellipse cx="21" cy="5.6" rx="6.6" ry="4" fill="#3e2c1e"/><ellipse cx="21" cy="13" rx="5.4" ry="7" fill="#b8865e"/><rect x="15.6" y="10.4" width="11" height="3.4" fill="#1c1612"/><ellipse cx="18.4" cy="12.6" rx="1.3" ry="0.7" fill="#d07a2a"/><ellipse cx="24" cy="12.6" rx="1.3" ry="0.7" fill="#d07a2a"/><ellipse cx="21" cy="21" rx="4.4" ry="4" fill="#c47c40"/><ellipse cx="9" cy="20.6" rx="5.6" ry="4.6" fill="#2c2119"/><ellipse cx="9.4" cy="27" rx="4.2" ry="6" fill="#a87c5a"/><rect x="4.2" y="23.6" width="8" height="3.2" fill="#1c1612"/><ellipse cx="7" cy="25.4" rx="1.2" ry="0.7" fill="#c87a2a"/><ellipse cx="32" cy="20.4" rx="5.2" ry="4" fill="#30241b"/><ellipse cx="32.4" cy="27" rx="4.4" ry="6.4" fill="#b08258"/><rect x="28.8" y="23.6" width="9" height="3.2" fill="#1c1612"/><ellipse cx="34.6" cy="25.4" rx="1.2" ry="0.7" fill="#c87a2a"/><rect x="30.6" y="30.4" width="4.4" height="1.2" fill="#3a2a20"/><ellipse cx="20" cy="31" rx="9.4" ry="7.4" fill="#ee942f"/><ellipse cx="20" cy="30" rx="6" ry="4.4" fill="#ffcf78"/><ellipse cx="20" cy="29.6" rx="3" ry="2.2" fill="#fff0c0"/><rect x="14" y="32.6" width="12" height="1" fill="#8a4a20" opacity="0.8"/><ellipse cx="7" cy="38" rx="6.4" ry="5" fill="#5a5034"/><ellipse cx="33.6" cy="38.4" rx="6" ry="5" fill="#4e472f"/><rect x="3" y="36" width="1.2" height="6" fill="#b89a3a" opacity="0.8"/><rect x="36" y="37" width="1.2" height="5" fill="#a88c36" opacity="0.8"/><rect x="-3" y="45" width="46" height="8.4" fill="#b5b19d"/><ellipse cx="20" cy="49" rx="15" ry="3" fill="#d6d2c2"/><ellipse cx="4" cy="48" rx="5" ry="3" fill="#9a968a"/><ellipse cx="37" cy="48" rx="5" ry="3" fill="#9c988a"/><rect x="15" y="45.4" width="2.2" height="7" fill="#4c4e3e"/><rect x="18.2" y="45.4" width="2.2" height="7.4" fill="#46483a"/><rect x="21.4" y="45.4" width="2.2" height="7.4" fill="#4a4c3c"/><rect x="24.6" y="45.4" width="2.2" height="7" fill="#505242"/><rect x="-3" y="53" width="46" height="8" fill="#28281f"/><rect x="13" y="55" width="14" height="1" fill="#e8e8e0" opacity="0.8"/><rect x="4.6" y="40.4" width="31" height="4.4" fill="#e4e4de" opacity="0.55"/></g><text x="20.2" y="44.4" font-size="5" fill="#ffffff" text-anchor="middle" font-family="Liberation Sans,sans-serif" font-weight="bold" textLength="31" lengthAdjust="spacingAndGlyphs">FIGHTER</text></g></svg></td><td><span style="letter-spacing:0.884px">100000</span></td><td><span style="letter-spacing:0.526px">80Days</span></td><td><span style="letter-spacing:0.828px">active</span></td><td><div class="ab b1"><svg viewBox="0 0 18 18"><rect x="3.6" y="4.4" width="10.8" height="10.6" rx=".6"/><path d="M6.6 2.6 V4.4 M11.4 2.6 V4.4"/><path d="M6 8.2 H12 M6 11 H9" style="stroke-width:1.3;stroke-linecap:butt"/></svg></div><div class="ab b2"><svg viewBox="0 0 18 18"><path d="M3.6 14.4 L4.4 11.4 L12 3.8 a1.3 1.3 0 0 1 1.9 0 l.4 .4 a1.3 1.3 0 0 1 0 1.9 L6.6 13.6 Z"/><path d="M11.4 4.6 L13.4 6.6" style="stroke-width:1"/></svg></div><div class="ab b3"><svg viewBox="0 0 18 18"><path d="M3.4 5.2 H14.6"/><path d="M6.8 5 V3.4 H11.2 V5"/><path d="M4.8 5.4 V14 a.9 .9 0 0 0 .9 .9 H12.3 a.9 .9 0 0 0 .9 -.9 V5.4"/><path d="M7.7 7.6 V12.6 M10.3 7.6 V12.6" style="stroke-width:1.4"/></svg></div></td></tr>
<tr class="o dn" style="height:81px"><td><span>7</span></td><td><span style="letter-spacing:0.286px">Maze Runner</span></td><td><span>7</span></td><td><span style="letter-spacing:1.143px">vip</span></td><td><svg class="ph" width="40" height="60" viewBox="0 0 40 60"><defs><filter id="bl7" x="-20%" y="-20%" width="140%" height="140%"><feGaussianBlur stdDeviation="0.8"/></filter><clipPath id="cp7"><rect width="40" height="60"/></clipPath></defs><g clip-path="url(#cp7)"><g filter="url(#bl7)"><rect x="-3" y="-3" width="46" height="66" fill="#566a65"/><rect x="-3" y="-3" width="46" height="10" fill="#a6bab6"/><ellipse cx="16" cy="3" rx="13" ry="3" fill="#c3d2ce"/><ellipse cx="12" cy="9" rx="10" ry="3.4" fill="#b5c5be"/><ellipse cx="26" cy="10" rx="8" ry="3" fill="#8ca098"/><ellipse cx="6" cy="13" rx="5" ry="3" fill="#9fb1aa"/><ellipse cx="22" cy="14" rx="10" ry="2.4" fill="#7d928a"/><ellipse cx="20" cy="19.6" rx="14" ry="3.6" fill="#384a46"/><ellipse cx="16" cy="17.4" rx="2" ry="5" fill="#293b48"/><ellipse cx="27" cy="18" rx="5" ry="2" fill="#44564e"/><ellipse cx="20" cy="28" rx="12" ry="6" fill="#4e605b"/><ellipse cx="12" cy="30" rx="3" ry="8" fill="#6c7e78"/><ellipse cx="27" cy="28" rx="3" ry="8" fill="#62746e"/><ellipse cx="20" cy="36" rx="8" ry="6" fill="#7f918c"/><ellipse cx="21" cy="41" rx="8" ry="4" fill="#a3b1ad"/><rect x="10" y="22" width="1" height="16" fill="#34443f" opacity="0.7"/><rect x="14" y="22" width="1" height="14" fill="#8a9a94" opacity="0.5"/><rect x="24" y="22" width="1" height="14" fill="#34443f" opacity="0.6"/><rect x="29" y="22" width="1" height="16" fill="#8a9a94" opacity="0.5"/><path d="M-3 5 L0.5 7.5 L4 27 L8.5 48 L-3 62 Z" fill="#111917"/><path d="M43 -3 L34.6 -3 L32.6 10 L31.4 22 L33.6 36 L35 50 L43 62 Z" fill="#18221f"/><rect x="36" y="4" width="1.2" height="30" fill="#38483f" opacity="0.6"/><rect x="38.4" y="10" width="1" height="30" fill="#2e3c36" opacity="0.6"/><ellipse cx="16.6" cy="35" rx="1.5" ry="6" fill="#2b2b28"/><ellipse cx="16.4" cy="29" rx="1" ry="1.2" fill="#8a6a54"/><ellipse cx="21.4" cy="36.4" rx="1.3" ry="4.4" fill="#5c4636"/><ellipse cx="21.4" cy="32" rx="0.9" ry="1" fill="#7a5a44"/><ellipse cx="30.6" cy="35.4" rx="1.5" ry="4.4" fill="#6a5232"/><ellipse cx="30.6" cy="31" rx="0.9" ry="1" fill="#8a6a4c"/><path d="M-3 47 L10 46 L22 43 L34 41 L43 44 L43 62 L-3 62 Z" fill="#0c1211"/></g><text x="20" y="52.6" font-size="3" fill="#c8cfcb" text-anchor="middle" font-family="Liberation Sans,sans-serif" font-weight="bold" textLength="28">MAZE RUNNER</text><text x="20" y="50" font-size="1.2" fill="#7a8682" text-anchor="middle" font-family="Liberation Sans,sans-serif" font-weight="bold" textLength="3">THE</text><text x="20" y="55.2" font-size="1.5" fill="#8a9692" text-anchor="middle" font-family="Liberation Sans,sans-serif" font-weight="bold" textLength="26">GET READY TO RUN</text><text x="20" y="57.6" font-size="1.6" fill="#aab4b0" text-anchor="middle" font-family="Liberation Sans,sans-serif" font-weight="bold" textLength="10">09.19.14</text></g></svg></td><td><span style="letter-spacing:0.804px">125000</span></td><td><span style="letter-spacing:0.486px">85Days</span></td><td><span style="letter-spacing:0.828px">active</span></td><td><div class="ab b1"><svg viewBox="0 0 18 18"><rect x="3.6" y="4.4" width="10.8" height="10.6" rx=".6"/><path d="M6.6 2.6 V4.4 M11.4 2.6 V4.4"/><path d="M6 8.2 H12 M6 11 H9" style="stroke-width:1.3;stroke-linecap:butt"/></svg></div><div class="ab b2"><svg viewBox="0 0 18 18"><path d="M3.6 14.4 L4.4 11.4 L12 3.8 a1.3 1.3 0 0 1 1.9 0 l.4 .4 a1.3 1.3 0 0 1 0 1.9 L6.6 13.6 Z"/><path d="M11.4 4.6 L13.4 6.6" style="stroke-width:1"/></svg></div><div class="ab b3"><svg viewBox="0 0 18 18"><path d="M3.4 5.2 H14.6"/><path d="M6.8 5 V3.4 H11.2 V5"/><path d="M4.8 5.4 V14 a.9 .9 0 0 0 .9 .9 H12.3 a.9 .9 0 0 0 .9 -.9 V5.4"/><path d="M7.7 7.6 V12.6 M10.3 7.6 V12.6" style="stroke-width:1.4"/></svg></div></td></tr>
<tr class="e" style="height:80px"><td><span>8</span></td><td><span style="letter-spacing:0.679px">Divercient</span></td><td><span>8</span></td><td><span style="letter-spacing:1.143px">vip</span></td><td><svg class="ph" width="40" height="59" viewBox="0 0 40 59"><defs><filter id="bl8" x="-20%" y="-20%" width="140%" height="140%"><feGaussianBlur stdDeviation="0.8"/></filter><clipPath id="cp8"><rect width="40" height="59"/></clipPath></defs><g clip-path="url(#cp8)"><g filter="url(#bl8)"><rect x="-3" y="-3" width="46" height="65" fill="#6a7eae"/><rect x="-3" y="-3" width="46" height="8" fill="#5b79bd"/><ellipse cx="10" cy="9" rx="9" ry="3.4" fill="#b09cb0"/><ellipse cx="31" cy="7" rx="9" ry="3" fill="#98a2cc"/><ellipse cx="8" cy="16" rx="9" ry="3.6" fill="#6c7aae"/><ellipse cx="33" cy="14" rx="7" ry="3" fill="#c6a6a4"/><ellipse cx="20" cy="4" rx="8" ry="2" fill="#7e92c8"/><ellipse cx="27" cy="11" rx="4" ry="2" fill="#d4aa90"/><ellipse cx="6" cy="24" rx="9" ry="4" fill="#d2a68e"/><ellipse cx="33" cy="24" rx="8" ry="4" fill="#e6b27a"/><ellipse cx="37.4" cy="27.4" rx="2.6" ry="2.4" fill="#fff2c4"/><ellipse cx="18" cy="21" rx="7" ry="3" fill="#a99ab4"/><rect x="-3" y="28" width="46" height="11" fill="#85766a"/><ellipse cx="33" cy="33" rx="8" ry="4" fill="#c69c6c"/><ellipse cx="5" cy="33" rx="7" ry="4" fill="#6c6a72"/><ellipse cx="18" cy="30" rx="6" ry="2" fill="#5f6270"/><rect x="2" y="27" width="1.6" height="6" fill="#4c5264"/><rect x="6" y="29" width="1.4" height="5" fill="#535868"/><rect x="34" y="29" width="1.4" height="6" fill="#8a7458"/><rect x="-3" y="38.6" width="46" height="10" fill="#54565c"/><ellipse cx="34" cy="42" rx="7" ry="4" fill="#86745a"/><ellipse cx="5" cy="44" rx="8" ry="4" fill="#5e6066"/><ellipse cx="30" cy="46" rx="6" ry="2" fill="#9a8458"/><ellipse cx="23.6" cy="12.4" rx="3.2" ry="5" fill="#a67a42"/><ellipse cx="25" cy="10" rx="1.6" ry="2" fill="#c89a5a"/><ellipse cx="23.4" cy="26" rx="3" ry="11.6" fill="#1a2430"/><ellipse cx="24.4" cy="40" rx="1.6" ry="5" fill="#1a222c"/><ellipse cx="25.6" cy="16.6" rx="1.2" ry="1.6" fill="#c89a7a"/><ellipse cx="15" cy="23.4" rx="2.2" ry="2.4" fill="#2c2420"/><ellipse cx="15.2" cy="25" rx="1.6" ry="1.6" fill="#9a7a62"/><path d="M9 28 L14 26 L20 27 L22 36 L21 45 L17 47 L10 45 L8 38 Z" fill="#1a2430"/><rect x="-3" y="47.6" width="46" height="14" fill="#2d3138"/><rect x="13" y="53.4" width="14" height="0.8" fill="#7a808c" opacity="0.7"/><rect x="8" y="55.2" width="24" height="0.7" fill="#666c78" opacity="0.7"/><rect x="24" y="55.6" width="1.6" height="5" fill="#c8a030" opacity="0.8"/><rect x="9.4" y="48.6" width="20.4" height="3" fill="#2a7cc6" opacity="0.9"/></g><text x="19.6" y="51.3" font-size="3.2" fill="#a6dcff" text-anchor="middle" font-family="Liberation Sans,sans-serif" font-weight="bold" textLength="20">DIVERGENT</text><text x="20" y="3" font-size="1.3" fill="#dfe6f6" text-anchor="middle" font-family="Liberation Sans,sans-serif" font-weight="bold" textLength="34">SHAILENE WOODLEY   THEO JAMES   KATE WINSLET</text></g></svg></td><td><span style="letter-spacing:1.224px">250000</span></td><td><span style="letter-spacing:0.183px">100Days</span></td><td><span style="letter-spacing:0.828px">active</span></td><td><div class="ab b1"><svg viewBox="0 0 18 18"><rect x="3.6" y="4.4" width="10.8" height="10.6" rx=".6"/><path d="M6.6 2.6 V4.4 M11.4 2.6 V4.4"/><path d="M6 8.2 H12 M6 11 H9" style="stroke-width:1.3;stroke-linecap:butt"/></svg></div><div class="ab b2"><svg viewBox="0 0 18 18"><path d="M3.6 14.4 L4.4 11.4 L12 3.8 a1.3 1.3 0 0 1 1.9 0 l.4 .4 a1.3 1.3 0 0 1 0 1.9 L6.6 13.6 Z"/><path d="M11.4 4.6 L13.4 6.6" style="stroke-width:1"/></svg></div><div class="ab b3"><svg viewBox="0 0 18 18"><path d="M3.4 5.2 H14.6"/><path d="M6.8 5 V3.4 H11.2 V5"/><path d="M4.8 5.4 V14 a.9 .9 0 0 0 .9 .9 H12.3 a.9 .9 0 0 0 .9 -.9 V5.4"/><path d="M7.7 7.6 V12.6 M10.3 7.6 V12.6" style="stroke-width:1.4"/></svg></div></td></tr>
<tr class="o" style="height:80px"><td><span>9</span></td><td><span style="letter-spacing:0.431px">Under paris</span></td><td><span>9</span></td><td><span style="letter-spacing:1.143px">vip</span></td><td><svg class="ph" width="40" height="59" viewBox="0 0 40 59"><defs><filter id="bl9" x="-20%" y="-20%" width="140%" height="140%"><feGaussianBlur stdDeviation="0.8"/></filter><clipPath id="cp9"><rect width="40" height="59"/></clipPath></defs><g clip-path="url(#cp9)"><g filter="url(#bl9)"><rect x="-3" y="-3" width="46" height="65" fill="#1f4a46"/><ellipse cx="10" cy="8" rx="9" ry="6" fill="#2a5f58"/><ellipse cx="30" cy="12" rx="9" ry="7" fill="#1a403c"/><ellipse cx="32" cy="30" rx="8" ry="8" fill="#245550"/><ellipse cx="6" cy="30" rx="6" ry="8" fill="#285a54"/><path d="M4 52 L12 36 L22 23 L20 32 L24 40 L16 52 L8 62 L2 62 Z" fill="#4f8078"/><path d="M8 54 L20 28 L21 31 L13 54 Z" fill="#86aaa2" opacity="0.8"/><path d="M20 40 L27 46 L24 52 L18 50 Z" fill="#1a3a36"/><ellipse cx="37" cy="54" rx="4" ry="7" fill="#5a564e"/><ellipse cx="22" cy="9" rx="6" ry="3" fill="#2f625c"/><ellipse cx="14" cy="18" rx="5" ry="3" fill="#2a5a55"/><ellipse cx="30" cy="26" rx="5" ry="4" fill="#1b3f3c"/><ellipse cx="12" cy="26" rx="4" ry="3" fill="#2e625c"/></g><ellipse cx="3" cy="10" rx="0.6" ry="0.7" fill="#c8502a" opacity="0.9"/><ellipse cx="20" cy="1" rx="0.6" ry="0.7" fill="#d04030" opacity="0.9"/><ellipse cx="24" cy="2" rx="0.6" ry="0.7" fill="#d88050" opacity="0.9"/><ellipse cx="27" cy="4" rx="0.6" ry="0.7" fill="#e07040" opacity="0.9"/><ellipse cx="22" cy="8" rx="0.6" ry="0.7" fill="#3a2a24" opacity="0.9"/><ellipse cx="15" cy="7" rx="0.6" ry="0.7" fill="#3a2a24" opacity="0.9"/><ellipse cx="9" cy="10" rx="0.6" ry="0.7" fill="#c8703a" opacity="0.9"/><ellipse cx="35" cy="3" rx="0.6" ry="0.7" fill="#c86030" opacity="0.9"/><ellipse cx="36" cy="10" rx="0.6" ry="0.7" fill="#2a2420" opacity="0.9"/><ellipse cx="2" cy="15" rx="0.6" ry="0.7" fill="#b8603a" opacity="0.9"/><ellipse cx="3" cy="23" rx="0.6" ry="0.7" fill="#d03838" opacity="0.9"/><ellipse cx="30" cy="22" rx="0.6" ry="0.7" fill="#c05a40" opacity="0.9"/><ellipse cx="38" cy="20" rx="0.6" ry="0.7" fill="#c84a3a" opacity="0.9"/><ellipse cx="30.5" cy="35.5" rx="0.6" ry="0.7" fill="#d84838" opacity="0.9"/><ellipse cx="12" cy="3" rx="0.6" ry="0.7" fill="#3a2a24" opacity="0.9"/><ellipse cx="33" cy="7" rx="0.6" ry="0.7" fill="#3a2a24" opacity="0.9"/><text x="20" y="19.2" font-size="4.3" fill="#f2f5f4" text-anchor="middle" font-family="Liberation Sans,sans-serif" font-weight="bold" textLength="22.4" lengthAdjust="spacingAndGlyphs">UNDER</text><text x="20" y="14.8" font-size="1.3" fill="#b8c8c4" text-anchor="middle" font-family="Liberation Sans,sans-serif" font-weight="bold" textLength="8">NETFLIX</text><text x="20" y="21.6" font-size="1.3" fill="#b8c8c4" text-anchor="middle" font-family="Liberation Sans,sans-serif" font-weight="bold" textLength="14">P A R I S</text></g></svg></td><td><span style="letter-spacing:1.224px">500000</span></td><td><span style="letter-spacing:0.216px">120Days</span></td><td><span style="letter-spacing:0.828px">active</span></td><td><div class="ab b1"><svg viewBox="0 0 18 18"><rect x="3.6" y="4.4" width="10.8" height="10.6" rx=".6"/><path d="M6.6 2.6 V4.4 M11.4 2.6 V4.4"/><path d="M6 8.2 H12 M6 11 H9" style="stroke-width:1.3;stroke-linecap:butt"/></svg></div><div class="ab b2"><svg viewBox="0 0 18 18"><path d="M3.6 14.4 L4.4 11.4 L12 3.8 a1.3 1.3 0 0 1 1.9 0 l.4 .4 a1.3 1.3 0 0 1 0 1.9 L6.6 13.6 Z"/><path d="M11.4 4.6 L13.4 6.6" style="stroke-width:1"/></svg></div><div class="ab b3"><svg viewBox="0 0 18 18"><path d="M3.4 5.2 H14.6"/><path d="M6.8 5 V3.4 H11.2 V5"/><path d="M4.8 5.4 V14 a.9 .9 0 0 0 .9 .9 H12.3 a.9 .9 0 0 0 .9 -.9 V5.4"/><path d="M7.7 7.6 V12.6 M10.3 7.6 V12.6" style="stroke-width:1.4"/></svg></div></td></tr>
</tbody></table>
</body>
</html>
